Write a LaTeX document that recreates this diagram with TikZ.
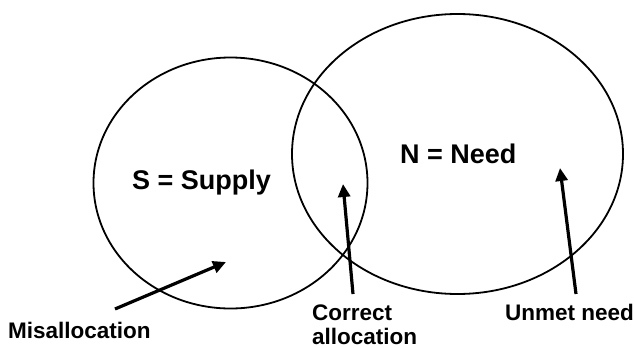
\documentclass[tikz,border=0pt]{standalone}
\usepackage{fontspec}
\setmainfont{Liberation Sans}
\usetikzlibrary{arrows.meta,shapes.geometric}
\begin{document}
\begin{tikzpicture}[x=1pt,y=-1pt,
  setshape/.style={ellipse,draw,line width=1.8pt,inner sep=0pt},
  biglabel/.style={font=\fontsize{27}{30}\selectfont\bfseries,inner sep=0pt,anchor=base west},
  smalllabel/.style={font=\fontsize{22.5}{24}\selectfont\bfseries,inner sep=0pt,anchor=base west,align=left},
  pointer/.style={line width=3.2pt,-{Triangle[length=13pt,width=12pt]}}]
\useasboundingbox (0,0) rectangle (635,348);
\node[setshape,minimum width=274pt,minimum height=251pt] (S) at (230.5,183) {};
\node[setshape,minimum width=331pt,minimum height=280pt] (N) at (457.5,154) {};
\node[biglabel] (slab) at (132,189) {S = Supply};
\node[biglabel] (nlab) at (400,163) {N = Need};
\node[smalllabel] (mis) at (8,338) {Misallocation};
\node[smalllabel] (cor) at (312,344) {Correct\\allocation};
\node[smalllabel] (unm) at (505,320) {Unmet need};
\coordinate (mtail) at (115,309);
\coordinate (mtip) at (226,262);
\coordinate (ctail) at (353,294);
\coordinate (ctip) at (343,184);
\coordinate (utail) at (576,294);
\coordinate (utip) at (560,168);
\draw[pointer] (mtail) -- (mtip);
\draw[pointer] (ctail) -- (ctip);
\draw[pointer] (utail) -- (utip);
\end{tikzpicture}
\end{document}
